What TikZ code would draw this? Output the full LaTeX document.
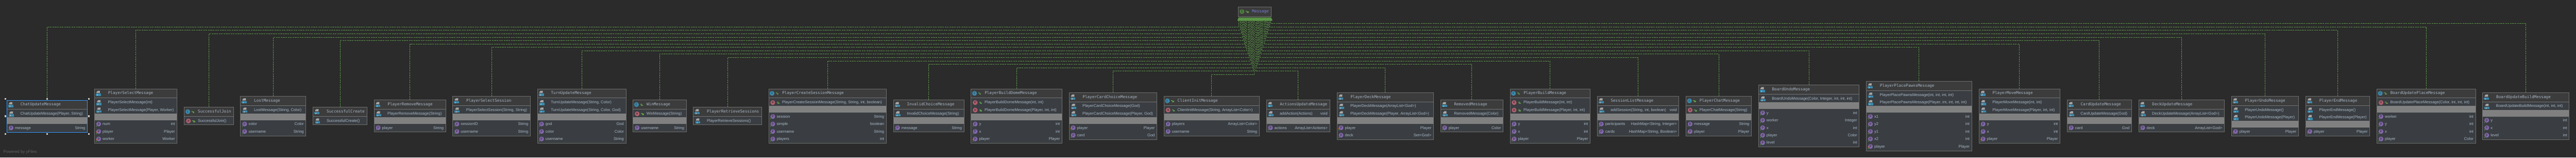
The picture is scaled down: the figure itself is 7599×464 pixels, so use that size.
\documentclass[tikz,border=0pt]{standalone}
\usepackage{fontspec}
\setmainfont{Liberation Sans}
\newfontfamily\titlefont{DejaVu Sans Mono}
\definecolor{canvasgray}{HTML}{2B2B2B}
\definecolor{titlegray}{HTML}{3C3C3C}
\definecolor{rowgray}{HTML}{3A3E42}
\definecolor{bandgray}{HTML}{808080}
\definecolor{framegray}{HTML}{6E6E6E}
\definecolor{textblue}{HTML}{A9B7C6}
\definecolor{linkgreen}{HTML}{5B9647}
\definecolor{dotgreen}{HTML}{4E9A3A}
\definecolor{classteal}{HTML}{3A8AAE}
\definecolor{methodrose}{HTML}{B5606F}
\definecolor{fieldviolet}{HTML}{8468AE}
\tikzset{
  titletext/.style={anchor=west, inner sep=0pt, text=textblue, font=\titlefont\fontsize{11.6}{12}\selectfont, text height=8.5pt, text depth=2.5pt},
  membertext/.style={anchor=west, inner sep=0pt, text=textblue, font=\fontsize{11.5}{12}\selectfont, text height=8.5pt, text depth=2.5pt},
  typetext/.style={membertext, anchor=east},
  badge/.style={circle, inner sep=0pt, minimum size=14pt, text=canvasgray, font=\titlefont\fontsize{10}{10}\selectfont},
  classframe/.style={draw=framegray, line width=1pt, inner sep=0pt, outer sep=0pt},
  realize/.style={linkgreen, line width=1pt, dash pattern=on 5pt off 2pt},
  handle/.style={fill=black!20, inner sep=0pt, minimum size=5pt},
  pics/jfile/.style={code={
    \fill[black!35] (2,-1) -- (2,-4) -- (5.5,-7.5) -- (12,-7.5) -- (12,-1) -- cycle;
    \fill[classteal] (0,1) rectangle (15,7.5);
    \draw[black!30, line width=.7pt] (5,2.5) -- (5,5.8) -- (3,5.8);
  }},
  pics/openlock/.style={code={
    \fill[linkgreen] (-1,0) rectangle (4.5,3.7);
    \draw[linkgreen, line width=1pt] (-3.3,1) -- (-3.3,-2) -- (0,-2) -- (0,0);
  }}
}
\newcount\nummeth
\newcount\numfield
% name, left, right, top, kind (j or c), title, methods, fields
\newcommand{\classbox}[8]{%
  \foreach \mspec [count=\k] in {#7}{\global\nummeth=\k\relax}
  \global\numfield=0\relax
  \if\relax\detokenize{#8}\relax\else
    \foreach \fspec [count=\k] in {#8}{\global\numfield=\k\relax}
  \fi
  \pgfmathsetmacro\ysep{#4+27}
  \pgfmathsetmacro\yband{\ysep+22*\the\nummeth+1.7}
  \pgfmathsetmacro\yrows{\yband+20}
  \ifnum\numfield=0
    \pgfmathsetmacro\ybot{\yband+1.3}
  \else
    \pgfmathsetmacro\ybot{\yrows+22*\the\numfield+1.7}
  \fi
  \fill[titlegray] (#2,#4) rectangle (#3,\ysep);
  \fill[rowgray] (#2,\ysep) rectangle (#3,\ybot);
  \ifnum\numfield=0\else
    \fill[bandgray] (#2,\yband) rectangle (#3,\yrows);
  \fi
  \draw[black!55, line width=.8pt] (#2,\ysep) -- (#3,\ysep);
  \if c#5
    \node[badge, fill=classteal] (#1-kind) at (#2+10.2,#4+13.5) {c};
    \pic at (#2+25,#4+13.5) {openlock};
  \else
    \pic at (#2+4,#4+13.5) {jfile};
  \fi
  \node[titletext] (#1-title) at (#2+40,#4+13.5) {#6};
  \foreach \mtxt/\mret [count=\k] in {#7}{
    \pgfmathsetmacro\yrow{\ysep+13.7+22*(\k-1)}
    \if c#5
      \node[badge, fill=methodrose] (#1-mi\k) at (#2+12.2,\yrow) {m};
      \pic at (#2+27.7,\yrow) {openlock};
    \else
      \pic at (#2+5.7,\yrow) {jfile};
    \fi
    \node[membertext] (#1-m\k) at (#2+39.7,\yrow) {\mtxt};
    \ifx\mret\empty\else
      \node[typetext] (#1-mr\k) at (#3-6,\yrow) {\mret};
    \fi
  }
  \ifnum\numfield=0\else
    \foreach \fname/\ftype/\fown [count=\k] in {#8}{
      \pgfmathsetmacro\yrow{\yrows+12+22*(\k-1)}
      \node[badge, fill=fieldviolet] (#1-fi\k) at (#2+12.3,\yrow-1) {p};
      \fill[dotgreen] (#2+6,\yrow+5.3) circle (1.5pt);
      \ifnum\fown=1
        \fill[orange!80!red] (#2+5.7,\yrow+1) circle (1.5pt);
      \fi
      \node[membertext] (#1-f\k) at (#2+23.7,\yrow) {\fname};
      \node[typetext] (#1-t\k) at (#3-6,\yrow) {\ftype};
    }
  \fi
  \pgfmathsetmacro\boxw{#3-#2}
  \pgfmathsetmacro\boxh{\ybot-#4}
  \node[classframe, anchor=north west, minimum width=\boxw pt, minimum height=\boxh pt] (#1) at (#2,#4) {};
}
\begin{document}
\begin{tikzpicture}[x=1pt, y=-1pt]
  \useasboundingbox (0,0) rectangle (7599,464);
  \fill[canvasgray] (0,0) rectangle (7599,464);

  \classbox{chat}{20.4}{257.6}{294.7}{j}{ChatUpdateMessage}{{ChatUpdateMessage(Player, String)}/}{message/String/0}
  \classbox{pselect}{278.8}{522.4}{261.3}{j}{PlayerSelectMessage}{{PlayerSelectMessage(int)}/,{PlayerSelectMessage(Player, Worker)}/}{num/int/0,player/Player/1,worker/Worker/1}
  \classbox{sjoin}{543.7}{688.6}{315.3}{c}{SuccessfulJoin}{{SuccessfulJoin()}/}{}
  \classbox{lost}{709.4}{902.4}{283.3}{j}{LostMessage}{{LostMessage(String, Color)}/}{color/Color/0,username/String/0}
  \classbox{screate}{923.7}{1082.4}{315.3}{j}{SuccessfulCreate}{{SuccessfulCreate()}/}{}
  \classbox{premove}{1103.3}{1314.7}{294.3}{j}{PlayerRemoveMessage}{{PlayerRemoveMessage(String)}/}{player/String/0}
  \classbox{psession}{1335.5}{1564.5}{283.3}{j}{PlayerSelectSession}{{PlayerSelectSession(String, String)}/}{sessionID/String/0,username/String/0}
  \classbox{turn}{1585.3}{1846.5}{261.3}{j}{TurnUpdateMessage}{{TurnUpdateMessage(String, Color)}/,{TurnUpdateMessage(String, Color, God)}/}{god/God/0,color/Color/0,username/String/0}
  \classbox{win}{1867.3}{2024.5}{294.3}{c}{WinMessage}{{WinMessage(String)}/}{username/String/0}
  \classbox{pretrieve}{2045.3}{2246.5}{315.3}{j}{PlayerRetrieveSessions}{{PlayerRetrieveSessions()}/}{}
  \classbox{pcreate}{2267.3}{2614.3}{261.3}{c}{PlayerCreateSessionMessage}{{PlayerCreateSessionMessage(String, String, int, boolean)}/}{session/String/0,simple/boolean/0,username/String/0,players/int/0}
  \classbox{invalid}{2635.5}{2843.7}{294.3}{j}{InvalidChoiceMessage}{{InvalidChoiceMessage(String)}/}{message/String/0}
  \classbox{pdome}{2864.5}{3132.7}{261.3}{c}{PlayerBuildDomeMessage}{{PlayerBuildDomeMessage(int, int)}/,{PlayerBuildDomeMessage(Player, int, int)}/}{y/int/0,x/int/0,player/Player/1}
  \classbox{pcard}{3153.5}{3412.7}{272.3}{j}{PlayerCardChoiceMessage}{{PlayerCardChoiceMessage(God)}/,{PlayerCardChoiceMessage(Player, God)}/}{player/Player/1,card/God/0}
  \classbox{cinit}{3433.5}{3714.7}{283.3}{c}{ClientInitMessage}{{ClientInitMessage(String, ArrayList<Color>)}/}{players/ArrayList<Color>/0,username/String/0}
  \classbox{actions}{3735.5}{3922.4}{294.3}{j}{ActionsUpdateMessage}{{addAction(Actions)}/void}{actions/ArrayList<Actions>/0}
  \classbox{pdeck}{3943.7}{4228.6}{272.3}{j}{PlayerDeckMessage}{{PlayerDeckMessage(ArrayList<God>)}/,{PlayerDeckMessage(Player, ArrayList<God>)}/}{player/Player/1,deck/Set<God>/0}
  \classbox{removed}{4249.4}{4433.5}{294.3}{j}{RemovedMessage}{{RemovedMessage(Color)}/}{player/Color/0}
  \classbox{pbuild}{4454.3}{4690.6}{261.3}{c}{PlayerBuildMessage}{{PlayerBuildMessage(int, int)}/,{PlayerBuildMessage(Player, int, int)}/}{y/int/0,x/int/0,player/Player/1}
  \classbox{slist}{4711.4}{4952.7}{283.3}{j}{SessionListMessage}{{addSession(String, int, boolean)}/void}{participants/{HashMap<String, Integer>}/0,cards/{HashMap<String, Boolean>}/0}
  \classbox{pchat}{4973.5}{5166.5}{283.3}{c}{PlayerChatMessage}{{PlayerChatMessage(String)}/}{message/String/0,player/Player/1}
  \classbox{bundo}{5187.3}{5484.5}{250.3}{j}{BoardUndoMessage}{{BoardUndoMessage(Color, Integer, int, int, int)}/}{y/int/0,worker/Integer/0,x/int/0,player/Color/0,level/int/0}
  \classbox{ppawns}{5505.3}{5816.3}{239.3}{j}{PlayerPlacePawnsMessage}{{PlayerPlacePawnsMessage(int, int, int, int)}/,{PlayerPlacePawnsMessage(Player, int, int, int, int)}/}{x1/int/0,y2/int/0,y1/int/0,x2/int/0,player/Player/1}
  \classbox{pmove}{5837.6}{6076.7}{261.3}{j}{PlayerMoveMessage}{{PlayerMoveMessage(int, int)}/,{PlayerMoveMessage(Player, int, int)}/}{y/int/0,x/int/0,player/Player/1}
  \classbox{cardup}{6097.6}{6287.8}{294.3}{j}{CardUpdateMessage}{{CardUpdateMessage(God)}/}{card/God/0}
  \classbox{deckup}{6308.6}{6561.6}{294.3}{j}{DeckUpdateMessage}{{DeckUpdateMessage(ArrayList<God>)}/}{deck/ArrayList<God>/0}
  \classbox{pundo}{6582.4}{6780.4}{283.3}{j}{PlayerUndoMessage}{{PlayerUndoMessage()}/,{PlayerUndoMessage(Player)}/}{player/Player/1}
  \classbox{pend}{6801.6}{6990.6}{283.3}{j}{PlayerEndMessage}{{PlayerEndMessage()}/,{PlayerEndMessage(Player)}/}{player/Player/1}
  \classbox{bplace}{7011.4}{7302.7}{261.3}{c}{BoardUpdatePlaceMessage}{{BoardUpdatePlaceMessage(Color, int, int, int)}/}{worker/int/0,y/int/0,x/int/0,player/Color/0}
  \classbox{bbuild}{7323.4}{7578.7}{272.3}{j}{BoardUpdateBuildMessage}{{BoardUpdateBuildMessage(int, int, int)}/}{y/int/0,x/int/0,level/int/0}

  % the interface
  \fill[titlegray] (3653,20.3) rectangle (3749.8,49);
  \node[classframe, anchor=north west, minimum width=96.8pt, minimum height=28.7pt] (message) at (3653,20.3) {};
  \node[badge, fill=linkgreen!85!black] (message-kind) at (3663.7,34) {I};
  \pic at (3679,34) {openlock};
  \node[titletext, text=textblue!70!blue] (message-title) at (3693.5,34) {Message};

  \foreach \name/\lvl [count=\i] in {chat/79.3,pselect/89.3,sjoin/99.3,lost/109.3,screate/119.3,premove/129.3,psession/139.3,turn/149.3,win/159.3,pretrieve/169.3,pcreate/179.3,invalid/189.3,pdome/199.3,pcard/209.3,cinit/219.3,actions/209.3,pdeck/199.3,removed/189.3,pbuild/179.3,slist/169.3,pchat/159.3,bundo/149.3,ppawns/139.3,pmove/129.3,cardup/119.3,deckup/109.3,pundo/99.3,pend/89.3,bplace/79.3,bbuild/69.3} {
    \coordinate (port\i) at ({3654.7+3.25*(\i-1)},61);
    \draw[realize] (\name.north) |- (port\i |- 0,\lvl) -- (port\i);
    \fill[linkgreen] (port\i) ++(-5,0) -- ++(5,-11) -- ++(5,11) -- cycle;
  }

  % selection of the first class
  \draw[blue!50!cyan!80!white, line width=1pt] (chat.north west) rectangle (chat.south east);
  \foreach \anc/\dx/\dy [count=\i] in {north west/-4/-4,north/0/-4,north east/5/-4,west/-4/0,east/5/0,south west/-4/5,south/0/5,south east/5/5} {
    \node[handle] (chat-h\i) at ([shift={(\dx,\dy)}]chat.\anc) {};
  }

  \node[membertext, text=black!62, font=\fontsize{12}{12}\selectfont] (powered) at (10,448) {Powered by yFiles};
\end{tikzpicture}
\end{document}
